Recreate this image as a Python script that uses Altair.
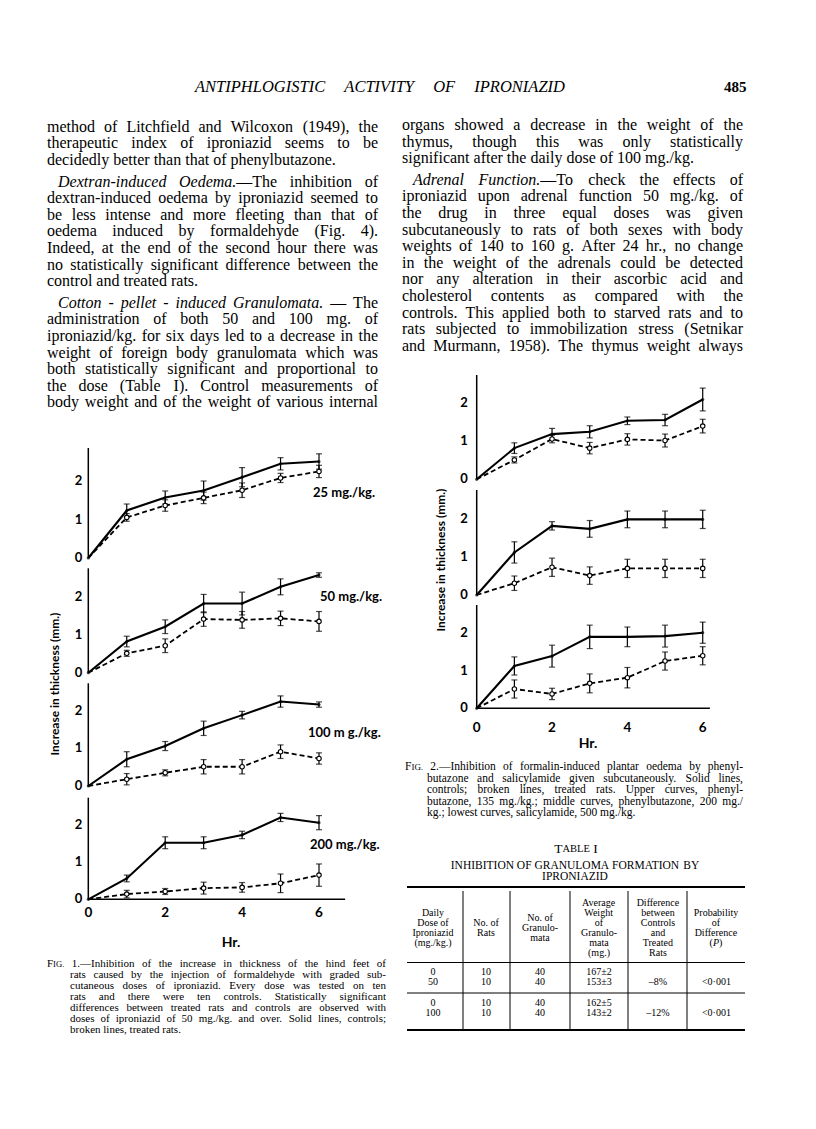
import altair as alt
import pandas as pd

OFF = 8
W, H = 800, 1113

# ---------------- data ----------------
HOURS = [0, 1, 2, 3, 4, 5, 6]

F1_LABELS = ["25 mg./kg.", "50 mg./kg.", "100 m g./kg.", "200 mg./kg."]
F1_CTRL = [[0, 1.24, 1.58, 1.76, 2.11, 2.46, 2.52],
           [0, 0.82, 1.21, 1.82, 1.82, 2.26, 2.57],
           [0, 0.71, 1.06, 1.53, 1.88, 2.24, 2.16],
           [0, 0.56, 1.52, 1.52, 1.73, 2.20, 2.06]]
F1_CTRL_ERR = [[0, 0.17, 0.17, 0.25, 0.25, 0.16, 0.20],
               [0, 0.14, 0.18, 0.24, 0.30, 0.21, 0.06],
               [0, 0.20, 0.12, 0.19, 0.10, 0.15, 0.07],
               [0, 0.09, 0.16, 0.16, 0.10, 0.11, 0.19]]
F1_TRT = [[0, 1.06, 1.37, 1.57, 1.77, 2.09, 2.26],
          [0, 0.51, 0.71, 1.41, 1.39, 1.43, 1.35],
          [0, 0.18, 0.35, 0.51, 0.51, 0.91, 0.73],
          [0, 0.14, 0.21, 0.30, 0.32, 0.43, 0.65]]
F1_TRT_ERR = [[0, 0.10, 0.15, 0.15, 0.19, 0.12, 0.16],
              [0, 0.08, 0.18, 0.19, 0.22, 0.19, 0.26],
              [0, 0.15, 0.08, 0.19, 0.19, 0.18, 0.15],
              [0, 0.10, 0.08, 0.16, 0.13, 0.25, 0.30]]

F2_CTRL = [[0, 0.82, 1.19, 1.25, 1.54, 1.56, 2.10],
           [0, 1.12, 1.82, 1.74, 1.99, 1.99, 1.99],
           [0, 1.12, 1.38, 1.89, 1.89, 1.91, 2.00]]
F2_CTRL_ERR = [[0, 0.14, 0.15, 0.16, 0.10, 0.15, 0.30],
               [0, 0.28, 0.11, 0.22, 0.22, 0.22, 0.24],
               [0, 0.24, 0.29, 0.31, 0.26, 0.29, 0.28]]
F2_TRT = [[0, 0.51, 1.06, 0.82, 1.05, 1.02, 1.40],
          [0, 0.31, 0.73, 0.51, 0.70, 0.70, 0.70],
          [0, 0.51, 0.38, 0.66, 0.81, 1.25, 1.39]]
F2_TRT_ERR = [[0, 0.08, 0.10, 0.15, 0.15, 0.17, 0.18],
              [0, 0.19, 0.24, 0.23, 0.24, 0.24, 0.24],
              [0, 0.24, 0.15, 0.25, 0.27, 0.24, 0.24]]

Y_TICKS = [0, 1, 2]
X_TICKS = [0, 2, 4, 6]
Y_TITLE = "Increase in thickness (mm.)"
X_TITLE = "Hr."

HEADER = "_ANTIPHLOGISTIC ACTIVITY OF IPRONIAZID_"
PAGE_NO = "485"

LEFT_PARAS = [
    (False, ["method of Litchfield and Wilcoxon (1949), the",
             "therapeutic index of iproniazid seems to be",
             "decidedly better than that of phenylbutazone."], False),
    (True, ["_Dextran-induced Oedema._—The inhibition of",
            "dextran-induced oedema by iproniazid seemed to",
            "be less intense and more fleeting than that of",
            "oedema induced by formaldehyde (Fig. 4).",
            "Indeed, at the end of the second hour there was",
            "no statistically significant difference between the",
            "control and treated rats."], False),
    (True, ["_Cotton - pellet - induced Granulomata._ — The",
            "administration of both 50 and 100 mg. of",
            "iproniazid/kg. for six days led to a decrease in the",
            "weight of foreign body granulomata which was",
            "both statistically significant and proportional to",
            "the dose (Table I). Control measurements of",
            "body weight and of the weight of various internal"], True),
]
RIGHT_PARAS = [
    (False, ["organs showed a decrease in the weight of the",
             "thymus, though this was only statistically",
             "significant after the daily dose of 100 mg./kg."], False),
    (True, ["_Adrenal Function._—To check the effects of",
            "iproniazid upon adrenal function 50 mg./kg. of",
            "the drug in three equal doses was given",
            "subcutaneously to rats of both sexes with body",
            "weights of 140 to 160 g. After 24 hr., no change",
            "in the weight of the adrenals could be detected",
            "nor any alteration in their ascorbic acid and",
            "cholesterol contents as compared with the",
            "controls. This applied both to starved rats and to",
            "rats subjected to immobilization stress (Setnikar",
            "and Murmann, 1958). The thymus weight always"], True),
]
FIG1_CAPTION = [
    "F^IG.^ 1.—Inhibition of the increase in thickness of the hind feet of",
    "rats caused by the injection of formaldehyde with graded sub-",
    "cutaneous doses of iproniazid. Every dose was tested on ten",
    "rats and there were ten controls. Statistically significant",
    "differences between treated rats and controls are observed with",
    "doses of iproniazid of 50 mg./kg. and over. Solid lines, controls;",
    "broken lines, treated rats.",
]
FIG2_CAPTION = [
    "F^IG.^ 2.—Inhibition of formalin-induced plantar oedema by phenyl-",
    "butazone and salicylamide given subcutaneously. Solid lines,",
    "controls; broken lines, treated rats. Upper curves, phenyl-",
    "butazone, 135 mg./kg.; middle curves, phenylbutazone, 200 mg./",
    "kg.; lowest curves, salicylamide, 500 mg./kg.",
]
TABLE_LABEL = "T^ABLE^ I"
TABLE_TITLE = ["INHIBITION OF GRANULOMA FORMATION BY", "IPRONIAZID"]
TABLE_HEAD = [["Daily", "Dose of", "Iproniazid", "(mg./kg.)"],
              ["No. of", "Rats"],
              ["No. of", "Granulo-", "mata"],
              ["Average", "Weight", "of", "Granulo-", "mata", "(mg.)"],
              ["Difference", "between", "Controls", "and", "Treated", "Rats"],
              ["Probability", "of", "Difference", "(_P_)"]]
TABLE_ROWS = [[["0", "50"], ["10", "10"], ["40", "40"], ["167±2", "153±3"], ["–8%"], ["<0·001"]],
              [["0", "100"], ["10", "10"], ["40", "40"], ["162±5", "143±2"], ["–12%"], ["<0·001"]]]

# ---------------- font metrics (Times / Liberation Serif) ----------------
ROMAN = {}
for ch, w in zip("abcdefghijklmnopqrstuvwxyz",
                 [444, 500, 444, 500, 444, 333, 500, 500, 278, 278, 500, 278, 778, 500, 500, 500, 500, 333, 389, 278, 500, 500, 722, 500, 500, 444]):
    ROMAN[ch] = w
for ch, w in zip("ABCDEFGHIJKLMNOPQRSTUVWXYZ",
                 [722, 667, 667, 722, 611, 556, 722, 722, 333, 389, 722, 611, 889, 722, 722, 556, 722, 667, 556, 611, 722, 722, 944, 722, 722, 611]):
    ROMAN[ch] = w
for ch in "0123456789":
    ROMAN[ch] = 500
ROMAN.update({' ': 250, '.': 250, ',': 250, '(': 333, ')': 333, '-': 333, '/': 278, '—': 1000, '–': 500,
              ';': 278, ':': 278, '%': 833, '±': 564, '<': 564, '·': 250})
ITALIC = dict(ROMAN)
for ch, w in zip("abcdefghijklmnopqrstuvwxyz",
                 [500, 500, 444, 500, 444, 278, 500, 500, 278, 278, 444, 278, 722, 500, 500, 500, 500, 389, 389, 278, 500, 444, 667, 444, 444, 389]):
    ITALIC[ch] = w
for ch, w in zip("ABCDEFGHIJKLMNOPQRSTUVWXYZ",
                 [611, 611, 667, 722, 611, 611, 722, 722, 333, 444, 667, 556, 833, 667, 722, 611, 722, 611, 500, 556, 722, 611, 833, 611, 556, 556]):
    ITALIC[ch] = w

SERIF = "Liberation Serif"
SANS = "Lato"
TEXT_ROWS = []


def pw(text, st, size):
    if st == 's':
        return sum(ROMAN.get(c.upper(), 500) for c in text) * 0.78 * size / 1000
    tab = ITALIC if st == 'i' else ROMAN
    return sum(tab.get(c, 500) for c in text) * size / 1000


def parse(line):
    words, cur, buf = [], [], ['']
    state = {'i': False, 's': False}

    def flush():
        if buf[0]:
            cur.append((buf[0], 's' if state['s'] else ('i' if state['i'] else 'r')))
            buf[0] = ''
    for ch in line:
        if ch == '_':
            flush(); state['i'] = not state['i']
        elif ch == '^':
            flush(); state['s'] = not state['s']
        elif ch == ' ':
            flush()
            if cur:
                words.append(list(cur)); cur.clear()
        else:
            buf[0] += ch
    flush()
    if cur:
        words.append(list(cur))
    return words


def add(t, x, y, fam=SERIF, size=12, ital=False, weight='normal', align='left', angle=0):
    TEXT_ROWS.append(dict(t=t, x=x - OFF, y=y - OFF, fam=fam, size=round(size, 2), ital=ital,
                          weight=weight, align=align, angle=angle))


def set_line(line, x0, x1, y, size, mode, weight='normal'):
    words = parse(line)
    ws = [sum(pw(t, s, size) for t, s in w) for w in words]
    tot, n = sum(ws), len(words)
    gap = 0.25 * size
    if mode == 'justify' and n > 1:
        gap = max((x1 - x0 - tot) / (n - 1), 0.15 * size)
    x = (x0 + x1) / 2 - (tot + gap * (n - 1)) / 2 if mode == 'center' else x0
    for w, wd in zip(words, ws):
        px = x
        for t, s in w:
            add(t, px, y, SERIF, size * (0.78 if s == 's' else 1), ital=(s == 'i'), weight=weight)
            px += pw(t, s, size)
        x += wd + gap


def set_paras(paras, x0, x1, y, dy, pgap, size, indent):
    for pi, (ind, lines, last_just) in enumerate(paras):
        if pi > 0:
            y += pgap
        for li, line in enumerate(lines):
            last = li == len(lines) - 1
            xx = x0 + (indent if (ind and li == 0) else 0)
            set_line(line, xx, x1, y, size, 'justify' if (not last or last_just) else 'left')
            y += dy


def set_caption(lines, x0, x1, hang, y, dy, size):
    for li, line in enumerate(lines):
        last = li == len(lines) - 1
        set_line(line, x0 + (hang if li else 0), x1, y, size, 'left' if last else 'justify')
        y += dy


# ---------------- page text ----------------
set_line(HEADER, 195, 565, 87, 16.5, 'justify')
add(PAGE_NO, 724, 87, SERIF, 15, weight='bold')
set_paras(LEFT_PARAS, 47, 378, 126.7, 16.6, 5, 16, 11)
set_paras(RIGHT_PARAS, 402, 743, 125, 16.6, 5, 16, 11)
set_caption(FIG1_CAPTION, 47, 386, 23, 963.5, 11, 11)
set_caption(FIG2_CAPTION, 405, 743, 22, 767, 11.5, 11.5)

# table text
set_line(TABLE_LABEL, 576, 576, 849, 13.5, 'center')
set_line(TABLE_TITLE[0], 575, 575, 865.5, 11.5, 'center')
set_line(TABLE_TITLE[1], 575, 575, 877, 11.5, 'center')
COL_X = [433, 486, 540, 599, 658, 716]
for cx, cell in zip(COL_X, TABLE_HEAD):
    y0 = 928 - (len(cell) - 1) * 10 / 2
    for k, ln in enumerate(cell):
        set_line(ln, cx, cx, y0 + 10 * k, 10, 'center')
for gy, row in zip([972, 1003], TABLE_ROWS):
    for cx, cell in zip(COL_X, row):
        ys = [gy, gy + 10] if len(cell) == 2 else [gy + 10]
        for yy, v in zip(ys, cell):
            set_line(v, cx, cx, yy, 10, 'center')

# figure annotations
for lab, (lx, ly) in zip(F1_LABELS, [(313, 493), (320, 597), (308, 733), (310, 845)]):
    add(lab, lx, ly, SANS, 13, weight='bold')
add(Y_TITLE, 55, 684, SANS, 12, weight='bold', align='center', angle=270)
add(Y_TITLE, 441, 560, SANS, 12, weight='bold', align='center', angle=270)
add(X_TITLE, 231, 943, SANS, 14, weight='bold', align='center')
add(X_TITLE, 588, 744, SANS, 14, weight='bold', align='center')

text_df = pd.DataFrame(TEXT_ROWS)
layers = []
for (fam, size, ital, weight, align, angle), sub in text_df.groupby(['fam', 'size', 'ital', 'weight', 'align', 'angle']):
    layers.append(
        alt.Chart(sub.reset_index(drop=True)).mark_text(
            font=fam, fontSize=float(size), fontStyle='italic' if ital else 'normal',
            fontWeight=weight, align=align, baseline='middle', angle=float(angle), color='black'
        ).encode(x=alt.X('x:Q', scale=None, axis=None), y=alt.Y('y:Q', scale=None, axis=None), text='t:N')
    )

# table rules
RULES = [(407, 745, 887, 887, 2.0), (407, 745, 962.5, 962.5, 1.0),
         (407, 745, 993, 993, 1.0), (407, 745, 1030, 1030, 2.0)]
for vx in [463, 510, 570, 628, 687]:
    RULES.append((vx, vx, 891, 1029, 1.0))
rules_df = pd.DataFrame([dict(x1=a - OFF, x2=b - OFF, y1=c - OFF, y2=d - OFF, w=e) for a, b, c, d, e in RULES])
layers.append(alt.Chart(rules_df).mark_rule(color='black').encode(
    x=alt.X('x1:Q', scale=None, axis=None), x2='x2:Q',
    y=alt.Y('y1:Q', scale=None, axis=None), y2='y2:Q',
    strokeWidth=alt.StrokeWidth('w:Q', scale=None)))


# ---------------- plot panels ----------------
def panel(ctrl, cerr, trt, terr, x0, per, xmax, zero, unit, top, ylabpad, xlabpad=None):
    rows = []
    for h, v, e in zip(HOURS, ctrl, cerr):
        rows.append(dict(hr=h, s='c', v=v, e=e, lo=v - e, hi=v + e))
    for h, v, e in zip(HOURS, trt, terr):
        rows.append(dict(hr=h, s='t', v=v, e=e, lo=v - e, hi=v + e))
    df = pd.DataFrame(rows)
    ymax = (zero - top) / unit
    xs = alt.Scale(domain=[0, xmax], range=[x0 - OFF, x0 - OFF + xmax * per], nice=False, zero=False)
    ys = alt.Scale(domain=[0, ymax], range=[zero - OFF, top - OFF], nice=False, zero=False)

    def X(f):
        return alt.X(f, scale=xs, axis=None)

    def Y(f):
        return alt.Y(f, scale=ys, axis=None)

    base = alt.Chart(df)
    parts = []
    # y axis (domain line + labels) drawn through the panel scales
    yax = alt.Chart(pd.DataFrame({'a': [0], 'b': [0], 'c': [ymax]}))
    parts.append(yax.mark_rule(color='black', strokeWidth=1.5).encode(x=X('a:Q'), y=Y('b:Q'), y2='c:Q'))
    parts.append(alt.Chart(pd.DataFrame({'v': Y_TICKS, 'a': [0] * len(Y_TICKS)})).mark_text(
        align='right', baseline='middle', dx=-ylabpad, font=SANS, fontWeight='bold', fontSize=13,
        color='black').encode(x=X('a:Q'), y=Y('v:Q'), text=alt.Text('v:Q', format='d')))
    if xlabpad is not None:
        xax = alt.Chart(pd.DataFrame({'a': [0], 'b': [xmax], 'c': [0]}))
        parts.append(xax.mark_rule(color='black', strokeWidth=1.5).encode(x=X('a:Q'), x2='b:Q', y=Y('c:Q')))
        parts.append(alt.Chart(pd.DataFrame({'h': X_TICKS, 'c': [0] * len(X_TICKS)})).mark_text(
            align='center', baseline='middle', dy=xlabpad + 7, font=SANS, fontWeight='bold',
            fontSize=13.5, color='black').encode(x=X('h:Q'), y=Y('c:Q'), text=alt.Text('h:Q', format='d')))

    parts.append(base.transform_filter("datum.s == 'c'").mark_line(
        color='black', strokeWidth=2.1).encode(x=X('hr:Q'), y=Y('v:Q')))
    parts.append(base.transform_filter("datum.s == 't'").mark_line(
        color='black', strokeWidth=1.8, strokeDash=[5, 3]).encode(x=X('hr:Q'), y=Y('v:Q')))
    eb = base.transform_filter("datum.e > 0")
    parts.append(eb.mark_rule(color='black', strokeWidth=1.2).encode(x=X('hr:Q'), y=Y('lo:Q'), y2='hi:Q'))
    parts.append(eb.mark_tick(orient='horizontal', size=6, thickness=1.2, color='black').encode(
        x=X('hr:Q'), y=Y('lo:Q')))
    parts.append(eb.mark_tick(orient='horizontal', size=6, thickness=1.2, color='black').encode(
        x=X('hr:Q'), y=Y('hi:Q')))
    parts.append(base.transform_filter("datum.s == 'c'").mark_point(
        shape='circle', filled=True, color='black', size=10).encode(x=X('hr:Q'), y=Y('v:Q')))
    parts.append(base.transform_filter("datum.s == 't' && datum.hr > 0").mark_point(
        shape='circle', filled=True, fill='white', stroke='black', strokeWidth=1.1, size=20, opacity=1
    ).encode(x=X('hr:Q'), y=Y('v:Q')))
    return alt.layer(*parts)


F1_ZERO = [558, 672.7, 786, 899.3]
F1_UNIT = [38.3, 38.0, 37.7, 37.2]
F1_TOP = [448, 568.3, 683.3, 797.7]
for i in range(4):
    layers.append(panel(F1_CTRL[i], F1_CTRL_ERR[i], F1_TRT[i], F1_TRT_ERR[i],
                        88.3, 38.45, 6.68, F1_ZERO[i], F1_UNIT[i], F1_TOP[i], 6,
                        7 if i == 3 else None))

F2_ZERO = [479.3, 595, 708.3]
F2_UNIT = [38.0, 38.0, 37.8]
F2_TOP = [375, 490, 605]
for i in range(3):
    layers.append(panel(F2_CTRL[i], F2_CTRL_ERR[i], F2_TRT[i], F2_TRT_ERR[i],
                        476.7, 37.67, 6.19, F2_ZERO[i], F2_UNIT[i], F2_TOP[i], 9,
                        13 if i == 2 else None))

chart = alt.layer(*layers).resolve_scale(x='independent', y='independent').properties(
    width=W, height=H, padding=0, autosize=alt.AutoSizeParams(type='none'), background='white'
).configure_view(stroke=None)

chart.save("out.html", embed_options={"renderer": "svg", "actions": False})
